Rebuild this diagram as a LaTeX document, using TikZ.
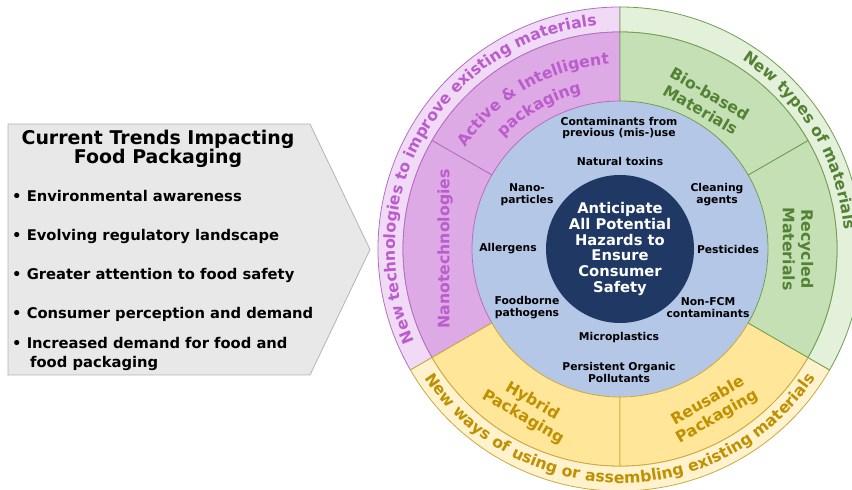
\documentclass[tikz,border=0pt]{standalone}
\usepackage{fontspec}
\setmainfont{DejaVu Sans}
\usetikzlibrary{decorations.text,positioning}
\definecolor{panelF}{RGB}{232,232,232}
\definecolor{panelL}{RGB}{180,180,180}
\definecolor{purpO}{RGB}{241,218,245}
\definecolor{purpM}{RGB}{222,170,230}
\definecolor{purpL}{RGB}{180,110,196}
\definecolor{purpT}{RGB}{186,92,204}
\definecolor{grnO}{RGB}{227,240,218}
\definecolor{grnM}{RGB}{198,224,181}
\definecolor{grnL}{RGB}{112,158,82}
\definecolor{grnT}{RGB}{84,130,53}
\definecolor{yelO}{RGB}{255,242,204}
\definecolor{yelM}{RGB}{255,230,153}
\definecolor{yelL}{RGB}{205,168,60}
\definecolor{yelT}{RGB}{191,144,0}
\definecolor{hazBlue}{RGB}{180,199,231}
\definecolor{coreBlue}{RGB}{31,56,100}
\newcommand\ringfont{\fontsize{15.8}{18.5}\selectfont\bfseries}

\begin{document}
\begin{tikzpicture}[x=1bp,y=1bp,
  seg/.style={line width=0.8bp},
  bul/.style={font=\fontsize{14.8}{18}\selectfont\bfseries, inner sep=0pt, anchor=base west},
  hazard/.style={font=\fontsize{10.8}{11.6}\selectfont\bfseries, align=center, inner sep=0pt},
  midlbl/.style={font=\ringfont, align=center, inner sep=0pt}]
\useasboundingbox (0,0) rectangle (852,490);
\clip (0,0) rectangle (852,490);
% trends panel on the left
\draw[draw=panelL, fill=panelF, line width=0.8bp] (8,366) -- (310,366) -- (370,240.5) -- (310,115) -- (8,115) -- cycle;
\node[font=\fontsize{19}{18.5}\selectfont\bfseries, align=center] (title) at (158,341) {Current Trends Impacting\\Food Packaging};
\foreach \t [count=\i] in {Environmental awareness, Evolving regulatory landscape, Greater attention to food safety, Consumer perception and demand}
  \node[bul] (b\i) at (12,{288.5-39*(\i-1)}) {\textbullet\ \t};
\node[bul] (b5) at (12,141.5) {\textbullet\ Increased demand for food and};
\node[bul] (b5b) at (30,122.5) {food packaging};
% wheel
\begin{scope}[shift={(620,241)}]
\fill[hazBlue] (0,0) circle[radius=148];
% outer band
\foreach \sa/\ea/\fc/\lc in {90/210/purpO/purpL, 210/330/yelO/yelL, -30/90/grnO/grnL}
  \filldraw[fill=\fc, draw=\lc, seg] (\sa:217) arc[start angle=\sa, end angle=\ea, radius=217]
    -- (\ea:242) arc[start angle=\ea, end angle=\sa, radius=242] -- cycle;
% inner band
\foreach \sa/\ea/\fc/\lc in {90/150/purpM/purpL, 150/210/purpM/purpL, 210/270/yelM/yelL, 270/330/yelM/yelL, -30/30/grnM/grnL, 30/90/grnM/grnL}
  \filldraw[fill=\fc, draw=\lc, seg] (\sa:148) arc[start angle=\sa, end angle=\ea, radius=148]
    -- (\ea:217) arc[start angle=\ea, end angle=\sa, radius=217] -- cycle;
\node[circle, fill=coreBlue, minimum size=148bp, inner sep=0pt, text=white, align=center,
  font=\fontsize{14.8}{15.8}\selectfont\bfseries] (core) at (0,0) {Anticipate\\All Potential\\Hazards to\\Ensure\\Consumer\\Safety};
% hazards
\node[hazard] (cont) at (-1,121) {Contaminants from\\previous (mis-)use};
\node[hazard] (toxins) at (0,88) {Natural toxins};
\node[hazard] (nano) at (-93,54.5) {Nano-\\particles};
\node[hazard] (clean) at (97,54.5) {Cleaning\\agents};
\node[hazard] (allerg) at (-112,0) {Allergens};
\node[hazard] (pest) at (108,0) {Pesticides};
\node[hazard] (foodb) at (-93,-58.5) {Foodborne\\pathogens};
\node[hazard] (nonfcm) at (88,-58.5) {Non-FCM\\contaminants};
\node[hazard] (micro) at (-1,-89) {Microplastics};
\node[hazard] (pop) at (-1,-123.5) {Persistent Organic\\Pollutants};
% inner band labels
\path[decorate, decoration={text along path, text align=center,
  text={|\ringfont\color{purpT}|Active {\&} Intelligent}}] (165:185) arc[start angle=165, end angle=75, radius=185];
\path[decorate, decoration={text along path, text align=center,
  text={|\ringfont\color{purpT}|packaging}}] (165:161) arc[start angle=165, end angle=75, radius=161];
\node[midlbl, text=purpT, rotate=90] (nanotech) at (180:175) {Nanotechnologies};
\node[midlbl, text=grnT, rotate=-30] (bio) at (60:170) {Bio-based\\Materials};
\node[midlbl, text=grnT, rotate=-90] (recyc) at (0:178) {Recycled\\Materials};
\node[midlbl, text=yelT, rotate=-30] (hybrid) at (240:185) {Hybrid\\Packaging};
\node[midlbl, text=yelT, rotate=30] (reuse) at (300:185) {Reusable\\Packaging};
% outer band labels
\path[decorate, decoration={text along path, text align=center,
  text={|\ringfont\color{purpT}|New technologies to improve existing materials}}] (235:225) arc[start angle=235, end angle=65, radius=225];
\path[decorate, decoration={text along path, text align=center,
  text={|\ringfont\color{grnT}|New types of materials}}] (95:225) arc[start angle=95, end angle=-33, radius=225];
\path[decorate, decoration={text along path, text align=center,
  text={|\ringfont\color{yelT}|New ways of using or assembling existing materials}}] (200:234) arc[start angle=200, end angle=340, radius=234];
\end{scope}
\end{tikzpicture}
\end{document}
